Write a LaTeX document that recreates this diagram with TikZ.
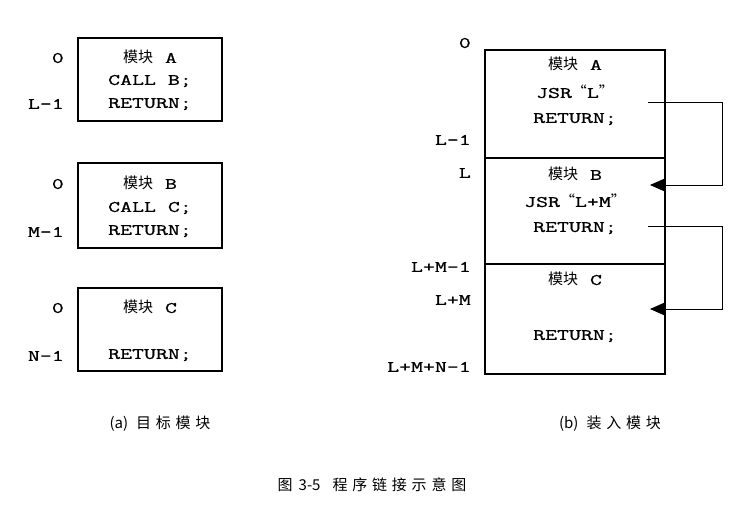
\documentclass[tikz,border=0pt]{standalone}
\usepackage{fontspec}
\setmonofont[FakeStretch=1.45,FakeBold=1]{Latin Modern Mono}
\newfontfamily\cjk{Noto Sans CJK SC}
\newfontfamily\cjkcap[LetterSpace=32]{Noto Sans CJK SC}
\newcommand\zhtext[1]{{\cjk\fontsize{15}{15}\selectfont #1}}
\newcommand\zhspaced[1]{{\cjkcap #1}}
\newcommand\zhquote[1]{\zhtext{“}#1\zhtext{”}}
\usetikzlibrary{arrows.meta}
\tikzset{
  modbox/.style={draw, line width=1.2pt, inner sep=0pt, outer sep=0pt, anchor=north west},
  txt/.style={inner sep=0pt, text height=9.8pt, text depth=0pt, font=\ttfamily\fontsize{16}{16}\selectfont},
  lbl/.style={txt, anchor=east},
  conn/.style={line width=1pt, -{Triangle[length=15pt,width=13pt]}},
  captext/.style={inner sep=0pt, text height=10pt, text depth=0pt, font=\cjk\fontsize{15}{15}\selectfont}
}
\begin{document}
\begin{tikzpicture}[x=1pt,y=-1pt]
\useasboundingbox[fill=white] (0,0) rectangle (744,520);

% ---------- (a) target modules ----------
\node[modbox, minimum width=144pt, minimum height=83pt] (ta) at (78,38) {};
\node[txt] (ta1) at (150,58) {\zhtext{模块} A};
\node[txt] (ta2) at (150,80) {CALL B;};
\node[txt] (ta3) at (150,103) {RETURN;};
\node[lbl] (la0) at (64,58) {0};
\node[lbl] (la1) at (64,104) {L-1};

\node[modbox, minimum width=144pt, minimum height=85pt] (tb) at (78,163) {};
\node[txt] (tb1) at (150,184) {\zhtext{模块} B};
\node[txt] (tb2) at (150,207) {CALL C;};
\node[txt] (tb3) at (150,230) {RETURN;};
\node[lbl] (lb0) at (64,184) {0};
\node[lbl] (lb1) at (64,232) {M-1};

\node[modbox, minimum width=144pt, minimum height=83pt] (tc) at (78,288) {};
\node[txt] (tc1) at (150,308) {\zhtext{模块} C};
\node[txt] (tc3) at (150,354) {RETURN;};
\node[lbl] (lc0) at (64,308) {0};
\node[lbl] (lc1) at (64,356) {N-1};

\node[captext] (capa) at (160,423) {(a)\hspace{8pt}\zhspaced{目标模块}};

% ---------- (b) loaded module ----------
\node[modbox, minimum width=180pt, minimum height=108pt] (ra) at (485,50) {};
\node[modbox, minimum width=180pt, minimum height=106pt] (rb) at (485,158) {};
\node[modbox, minimum width=180pt, minimum height=110pt] (rc) at (485,264) {};

\node[txt] (ra1) at (575,65) {\zhtext{模块} A};
\node[txt] (ra2) at (575,93) {JSR\zhquote{L}};
\node[txt] (ra3) at (575,118) {RETURN;};
\node[txt] (rb1) at (575,175) {\zhtext{模块} B};
\node[txt] (rb2) at (575,202) {JSR\zhquote{L+M}};
\node[txt] (rb3) at (575,227) {RETURN;};
\node[txt] (rc1) at (575,280) {\zhtext{模块} C};
\node[txt] (rc3) at (575,335) {RETURN;};

\node[lbl] (r0) at (471,43) {0};
\node[lbl] (r1) at (471,140) {L-1};
\node[lbl] (r2) at (471,173) {L};
\node[lbl] (r3) at (471,267) {L+M-1};
\node[lbl] (r4) at (471,300) {L+M};
\node[lbl] (r5) at (471,367) {L+M+N-1};

\coordinate (s1) at (648,102);
\coordinate (e1) at (650,185);
\coordinate (s2) at (648,226);
\coordinate (e2) at (650,309);
\draw[conn] (s1) -- ++(74,0) |- (e1);
\draw[conn] (s2) -- ++(74,0) |- (e2);

\node[captext] (capb) at (610,423) {(b)\hspace{8pt}\zhspaced{装入模块}};

% ---------- figure caption ----------
\node[captext] (fig) at (372,485) {图\hspace{6pt}3-5\hspace{12pt}\zhspaced{程序链接示意图}};
\end{tikzpicture}
\end{document}
